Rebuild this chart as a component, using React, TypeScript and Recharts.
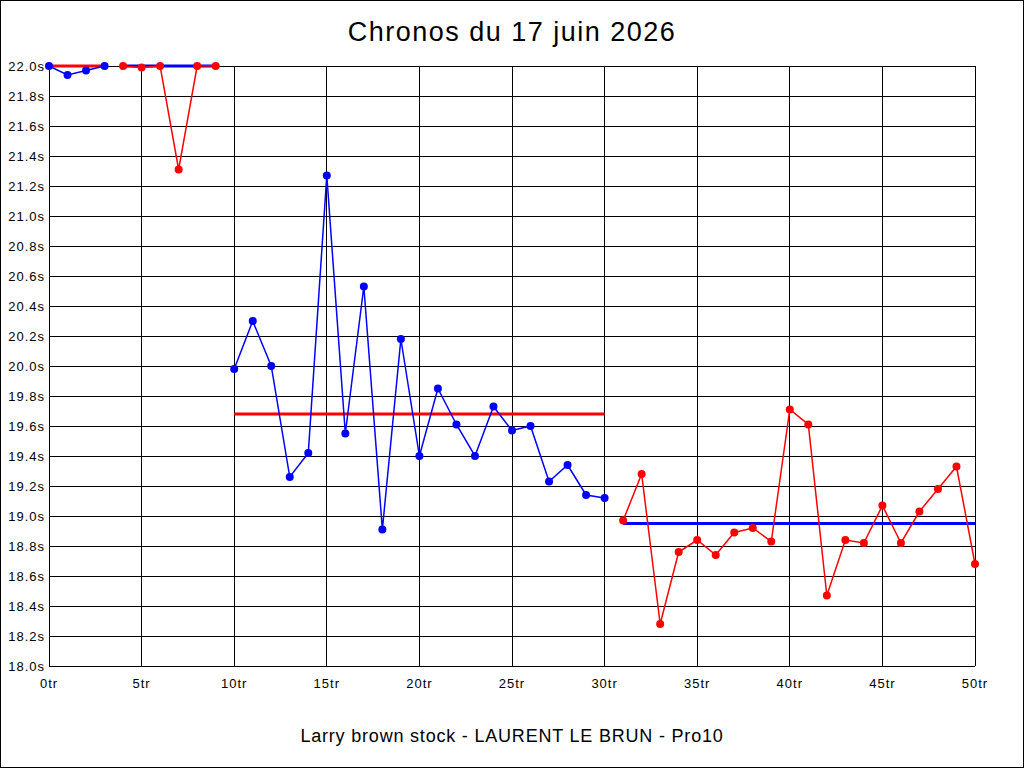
import React from "react";
import { ComposedChart, Line, XAxis, YAxis, CartesianGrid } from "recharts";

const titleText = "Chronos du 17 juin 2026";
const footerText = "Larry brown stock - LAURENT LE BRUN - Pro10";

const xTicks = [0, 5, 10, 15, 20, 25, 30, 35, 40, 45, 50];
const yTicks = [18.0, 18.2, 18.4, 18.6, 18.8, 19.0, 19.2, 19.4, 19.6, 19.8, 20.0, 20.2, 20.4, 20.6, 20.8, 21.0, 21.2, 21.4, 21.6, 21.8, 22.0];

const seg1Start = 0;
const seg1Values = [22.0, 21.94, 21.97, 22.0];
const seg1Avg = 22.0;

const seg2Start = 4;
const seg2Values = [22.0, 21.99, 22.0, 21.31, 22.0, 22.0];
const seg2Avg = 22.0;

const seg3Start = 10;
const seg3Values = [19.98, 20.3, 20.0, 19.26, 19.42, 21.27, 19.55, 20.53, 18.91, 20.18, 19.4, 19.85, 19.61, 19.4, 19.73, 19.57, 19.6, 19.23, 19.34, 19.14, 19.12];
const seg3Avg = 19.68;

const seg4Start = 31;
const seg4Values = [18.97, 19.28, 18.28, 18.76, 18.84, 18.74, 18.89, 18.92, 18.83, 19.71, 19.61, 18.47, 18.84, 18.82, 19.07, 18.82, 19.03, 19.18, 19.33, 18.68];
const seg4Avg = 18.95;

const BLUE = "#0000ff";
const RED = "#ff0000";

const toPoints = (start: number, values: number[]) => values.map((v, i) => ({ lap: start + i, v }));
const avgPoints = (start: number, values: number[], avg: number) => [
  { lap: start, v: avg },
  { lap: start + values.length - 1, v: avg },
];

const segments = [
  { key: "s1", start: seg1Start, values: seg1Values, avg: seg1Avg, color: BLUE, avgColor: RED },
  { key: "s2", start: seg2Start, values: seg2Values, avg: seg2Avg, color: RED, avgColor: BLUE },
  { key: "s3", start: seg3Start, values: seg3Values, avg: seg3Avg, color: BLUE, avgColor: RED },
  { key: "s4", start: seg4Start, values: seg4Values, avg: seg4Avg, color: RED, avgColor: BLUE },
];

const tickStyle = { fontSize: 13, fill: "#000", fontFamily: "Liberation Sans, Arial, sans-serif", letterSpacing: 1 };

export default function App() {
  return (
    <div
      style={{
        position: "absolute",
        left: 0,
        top: 0,
        width: 1024,
        height: 768,
        background: "#fff",
        border: "1px solid #000",
        boxSizing: "border-box",
        fontFamily: "Liberation Sans, Arial, sans-serif",
        overflow: "hidden",
      }}
    >
      <div
        style={{
          position: "absolute",
          left: -1,
          top: 18,
          width: 1024,
          textAlign: "center",
          fontSize: 27,
          lineHeight: "27px",
          letterSpacing: 1.5,
          color: "#000",
        }}
      >
        {titleText}
      </div>
      <div style={{ position: "absolute", left: -1, top: -1 }}>
        <ComposedChart width={1024} height={768} margin={{ top: 66, right: 0, bottom: 72, left: 0 }}>
          <CartesianGrid yAxisId="l" stroke="#000" strokeWidth={1} shapeRendering="crispEdges" />
          <XAxis
            dataKey="lap"
            type="number"
            domain={[0, 50]}
            ticks={xTicks}
            allowDuplicatedCategory={false}
            tickFormatter={(v: number) => `${v}tr`}
            axisLine={false}
            tickLine={false}
            tickSize={0}
            tickMargin={13}
            height={30}
            tick={tickStyle}
            interval={0}
          />
          <YAxis
            yAxisId="l"
            type="number"
            domain={[18, 22]}
            ticks={yTicks}
            tickFormatter={(v: number) => `${v.toFixed(1)}s`}
            axisLine={false}
            tickLine={false}
            tickSize={0}
            tickMargin={4}
            width={49}
            tick={tickStyle}
            interval={0}
          />
          <YAxis
            yAxisId="r"
            orientation="right"
            type="number"
            domain={[18, 22]}
            ticks={yTicks}
            tickFormatter={(v: number) => `${v.toFixed(1)}s`}
            axisLine={false}
            tickLine={false}
            tickSize={0}
            tickMargin={3}
            width={49}
            tick={tickStyle}
            interval={0}
          />
          {segments.map((s) => (
            <Line
              key={s.key + "avg"}
              yAxisId="l"
              data={avgPoints(s.start, s.values, s.avg)}
              dataKey="v"
              type="linear"
              stroke={s.avgColor}
              strokeWidth={3}
              dot={false}
              activeDot={false}
              isAnimationActive={false}
            />
          ))}
          {segments.map((s) => (
            <Line
              key={s.key}
              yAxisId="l"
              data={toPoints(s.start, s.values)}
              dataKey="v"
              type="linear"
              stroke={s.color}
              strokeWidth={1.5}
              dot={{ r: 4, fill: s.color, stroke: "none" }}
              activeDot={false}
              isAnimationActive={false}
            />
          ))}
        </ComposedChart>
      </div>
      <div
        style={{
          position: "absolute",
          left: -1,
          top: 726,
          width: 1024,
          textAlign: "center",
          fontSize: 18,
          lineHeight: "18px",
          letterSpacing: 0.8,
          color: "#000",
        }}
      >
        {footerText}
      </div>
    </div>
  );
}
